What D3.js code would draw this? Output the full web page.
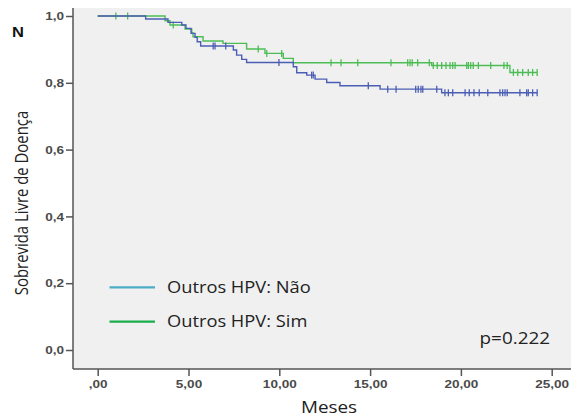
<!DOCTYPE html>
<html><head><meta charset="utf-8">
<script src="https://cdn.jsdelivr.net/npm/d3@7"></script>
<style>
html,body{margin:0;padding:0;background:#fff;}
svg{display:block;}
</style></head>
<body>
<svg id="chart" width="571" height="417"></svg>
<script>
// ---- data ----
const timeTicks = [0, 5, 10, 15, 20, 25];
const timeTickLabels = [",00", "5,00", "10,00", "15,00", "20,00", "25,00"];
const survTicks = [0, 0.2, 0.4, 0.6, 0.8, 1.0];
const survTickLabels = ["0,0", "0,2", "0,4", "0,6", "0,8", "1,0"];

const seriesNames = ["Outros HPV: Não", "Outros HPV: Sim"];

// Outros HPV: Não (blue)
const naoTimes = [0, 2.64, 3.87, 4.63, 4.86, 5.14, 5.36, 5.48, 5.67, 7.47, 7.65, 7.93, 8.20, 10.77, 10.96, 11.51, 11.97, 12.61, 13.34, 15.55, 18.94];
const naoSurv  = [1, 0.991, 0.981, 0.973, 0.963, 0.948, 0.936, 0.923, 0.910, 0.898, 0.883, 0.870, 0.861, 0.848, 0.830, 0.823, 0.811, 0.801, 0.791, 0.781, 0.770];
const naoCensor = [6.36, 6.46, 7.05, 9.98, 11.78, 11.87, 14.9, 15.97, 16.43, 17.51, 17.65, 17.8, 17.9, 18.67, 19.12, 19.31, 19.55, 20.23, 20.46, 20.72, 21.01, 21.48, 22.15, 22.3, 22.43, 22.55, 23.25, 23.62, 23.71, 23.95, 24.2];

// Outros HPV: Sim (green)
const simTimes = [0, 3.71, 3.98, 4.81, 5.18, 5.25, 5.80, 6.90, 8.20, 9.21, 10.22, 10.77, 18.39, 22.70];
const simSurv  = [1, 0.986, 0.973, 0.961, 0.949, 0.938, 0.925, 0.918, 0.901, 0.888, 0.873, 0.860, 0.852, 0.831];
const simCensor = [1.0, 1.65, 4.16, 8.84, 9.31, 10.13, 12.85, 13.4, 14.32, 16.15, 17.07, 17.2, 17.32, 17.62, 18.26, 18.48, 18.7, 18.94, 19.18, 19.4, 19.55, 19.68, 20.32, 20.41, 20.54, 20.68, 20.96, 21.64, 22.37, 22.55, 22.89, 23.13, 23.4, 23.71, 23.95, 24.2];

const endTime = 24.2;
const pText = "p=0.222";

// ---- layout ----
const W = 571, H = 417;
const plot = {left: 73, top: 8, right: 571, bottom: 369};
const svg = d3.select("#chart");
const SX = 1.18; // horizontal text stretch

const x = d3.scaleLinear().domain([0, 25]).range([97.7, 551.7]);
const y = d3.scaleLinear().domain([0, 1]).range([350, 16]);

svg.append("rect").attr("x", plot.left).attr("y", plot.top)
  .attr("width", plot.right - plot.left).attr("height", plot.bottom - plot.top)
  .attr("fill", "#f0f0f0");

// axes
const axisColor = "#555";
const yAxis = d3.axisLeft(y).tickValues(survTicks)
  .tickFormat((d, i) => survTickLabels[i]).tickSize(7).tickSizeOuter(0).tickPadding(2);
const gy = svg.append("g").attr("transform", `translate(${plot.left},0)`).call(yAxis);
gy.select(".domain").remove();

const xAxis = d3.axisBottom(x).tickValues(timeTicks)
  .tickFormat((d, i) => timeTickLabels[i]).tickSize(7).tickSizeOuter(0).tickPadding(4);
const gx = svg.append("g").attr("transform", `translate(0,${plot.bottom})`).call(xAxis);
gx.select(".domain").remove();

[gx, gy].forEach(g => {
  g.selectAll("line").attr("stroke", axisColor).attr("stroke-width", 1.5);
  g.selectAll("text").attr("fill", "#4a4a4a")
    .style("font-family", "'Liberation Sans', Arial, sans-serif")
    .style("font-size", "11.5px").style("font-weight", "bold");
});
gy.selectAll("text").each(function() {
  const t = d3.select(this);
  const xx = +t.attr("x");
  t.attr("x", xx / SX).attr("transform", `scale(${SX},1)`);
});
gx.selectAll("text").attr("transform", `scale(${SX},1)`);

svg.append("line").attr("x1", plot.left).attr("x2", plot.left)
  .attr("y1", plot.top).attr("y2", plot.bottom)
  .attr("stroke", axisColor).attr("stroke-width", 1.5);
svg.append("line").attr("x1", plot.left).attr("x2", plot.right)
  .attr("y1", plot.bottom).attr("y2", plot.bottom)
  .attr("stroke", axisColor).attr("stroke-width", 1.5);

// curves
function stepAt(times, surv, t) {
  const i = d3.bisectRight(times, t) - 1;
  return surv[Math.max(0, i)];
}
const line = d3.line().x(d => x(d[0])).y(d => y(d[1])).curve(d3.curveStepAfter);

const series = [
  {times: naoTimes, surv: naoSurv, censor: naoCensor, color: "#4c5eb4"},
  {times: simTimes, surv: simSurv, censor: simCensor, color: "#4cbd55"}
];
[series[1], series[0]].forEach(s => {
  const pts = s.times.map((t, i) => [t, s.surv[i]]);
  pts.push([endTime, s.surv[s.surv.length - 1]]);
  svg.append("path").datum(pts).attr("d", line)
    .attr("fill", "none").attr("stroke", s.color).attr("stroke-width", 1.4);
  svg.append("g").selectAll("line").data(s.censor).join("line")
    .attr("x1", d => x(d)).attr("x2", d => x(d))
    .attr("y1", d => y(stepAt(s.times, s.surv, d)) - 3.5)
    .attr("y2", d => y(stepAt(s.times, s.surv, d)) + 3.5)
    .attr("stroke", s.color).attr("stroke-width", 1.3);
});

// text helper with horizontal stretch
function stext(str, tx, ty, opts) {
  return svg.append("text")
    .attr("transform", `translate(${tx},${ty}) scale(${SX},1)`)
    .attr("text-anchor", opts.anchor || "start")
    .attr("fill", opts.fill || "#222")
    .style("font-family", opts.family || "'Open Sans', sans-serif")
    .style("font-size", opts.size + "px")
    .style("font-weight", opts.weight || "normal")
    .text(str);
}

// legend
const legendColors = ["#4bacc6", "#1aad4c"];
const legendY = [287.3, 321.7];
seriesNames.forEach((n, i) => {
  svg.append("line").attr("x1", 109.5).attr("x2", 155)
    .attr("y1", legendY[i]).attr("y2", legendY[i])
    .attr("stroke", legendColors[i]).attr("stroke-width", 2.2);
  stext(n, 167, legendY[i] + 5.5, {size: 15.5});
});

stext(pText, 550, 344, {size: 16, anchor: "end"});
stext("Meses", 329, 413, {size: 16, anchor: "middle"});
stext("N", 12, 37, {size: 14, weight: "bold", family: "'Liberation Sans', Arial, sans-serif", fill: "#111"});

// y title (rotated)
svg.append("text")
  .attr("transform", `translate(28,203) rotate(-90) scale(1,${SX})`)
  .attr("text-anchor", "middle").attr("fill", "#222")
  .style("font-family", "'Open Sans', sans-serif").style("font-size", "14.9px")
  .text("Sobrevida Livre de Doença");
</script>
</body></html>
